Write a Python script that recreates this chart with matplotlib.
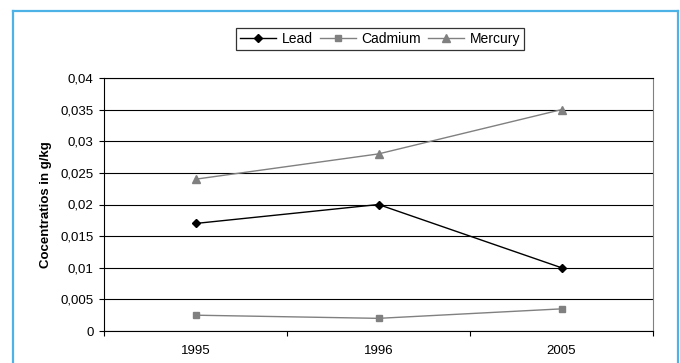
import matplotlib
matplotlib.use('Agg')
import matplotlib.pyplot as plt
from matplotlib.lines import Line2D
from matplotlib.ticker import FuncFormatter, FixedLocator

plt.rcParams['font.family'] = ['Liberation Sans', 'DejaVu Sans']

# data
years = ['1995', '1996', '2005']
lead = [0.017, 0.020, 0.010]
cadmium = [0.0025, 0.002, 0.0035]
mercury = [0.024, 0.028, 0.035]

W, H = 680, 363
fig = plt.figure(figsize=(W / 100, H / 100), dpi=100)

# light blue frame round the chart
blue = '#4db3e6'
fig.add_artist(Line2D([13 / W, 13 / W], [0, 1 - 11 / H], color=blue, lw=1.6))
fig.add_artist(Line2D([13 / W, 678 / W], [1 - 11 / H, 1 - 11 / H], color=blue, lw=1.6))
fig.add_artist(Line2D([678 / W, 678 / W], [0, 1 - 11 / H], color=blue, lw=1.6))

ax = fig.add_axes([104 / W, 1 - 331 / H, (653 - 104) / W, (331 - 78) / H])
x = [0.5, 1.5, 2.5]

ax.plot(x, lead, color='black', lw=1, marker='D', ms=4.5, mfc='black', mec='black', label='Lead')
ax.plot(x, cadmium, color='#808080', lw=1, marker='s', ms=5, mfc='#808080', mec='#808080', label='Cadmium')
ax.plot(x, mercury, color='#808080', lw=1, marker='^', ms=5.5, mfc='#808080', mec='#808080', label='Mercury')

ax.set_xlim(0, 3)
ax.set_ylim(0, 0.04)
yt = [i * 0.005 for i in range(9)]
ax.set_yticks(yt)
ax.yaxis.grid(True, color='black', lw=0.8)
ax.set_axisbelow(True)
ax.yaxis.set_major_formatter(FuncFormatter(lambda v, p: ('%g' % round(v, 4)).replace('.', ',')))

ax.xaxis.set_major_locator(FixedLocator([0, 1, 2, 3]))
ax.xaxis.set_minor_locator(FixedLocator(x))
ax.set_xticklabels([], minor=False)
ax.set_xticklabels(years, minor=True)
ax.tick_params(axis='x', which='minor', length=0, pad=10, labelsize=9.5)
ax.tick_params(axis='x', which='major', length=3.6, direction='out', width=0.8)
ax.tick_params(axis='y', length=3.6, direction='out', width=0.8, labelsize=9.5, pad=4)

for s in ['left', 'bottom', 'top']:
    ax.spines[s].set_color('black')
    ax.spines[s].set_linewidth(0.8)
ax.spines['right'].set_color('#808080')
ax.spines['right'].set_linewidth(0.8)

ax.set_ylabel('Cocentratios in g/kg', fontsize=9.5, fontweight='bold', labelpad=6)

leg = fig.legend(loc='center', bbox_to_anchor=(380 / W, 1 - 39 / H), ncol=3,
                 frameon=True, fancybox=False, edgecolor='black', fontsize=10,
                 handlelength=2.6, columnspacing=0.5, handletextpad=0.4,
                 borderpad=0.3)
leg.get_frame().set_linewidth(0.9)

fig.savefig('out.png', dpi=100)
